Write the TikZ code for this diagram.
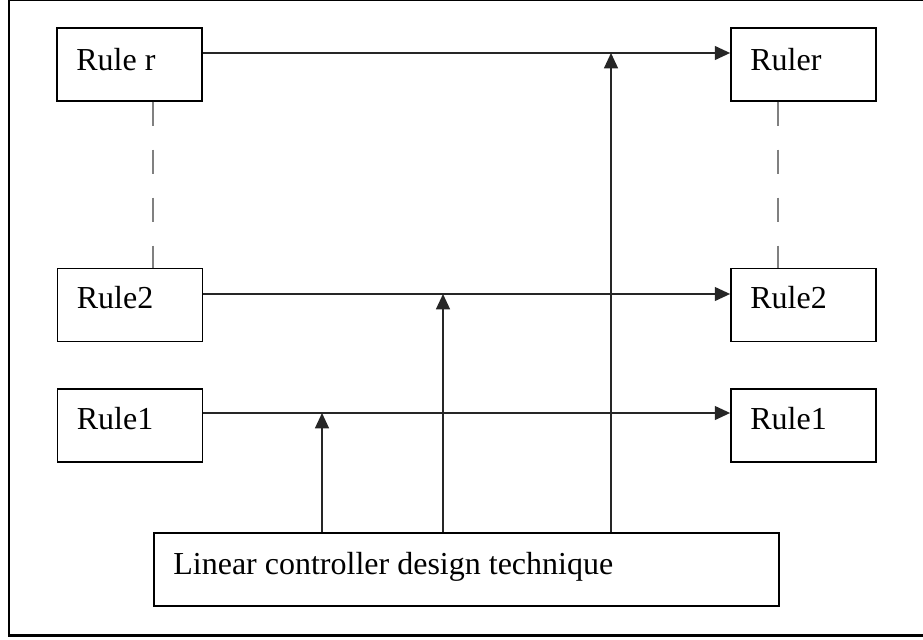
\documentclass[tikz,border=0pt]{standalone}
\usepackage{fontspec}
\setmainfont{Liberation Serif}
\usetikzlibrary{arrows.meta,calc}
\begin{document}
\begin{tikzpicture}[x=0.75pt,y=-0.75pt,
  box/.style={draw=black,line width=1.1pt,inner sep=0pt,fill=white},
  smallbox/.style={box,minimum width=109pt,minimum height=54.5pt},
  lbl/.style={anchor=base west,inner sep=0pt,font=\fontsize{24}{28}\selectfont},
  arr/.style={draw=black!85,line width=1pt,-{Triangle[length=11.5pt,width=10.5pt]}},
  dashline/.style={draw=black!50,line width=1.2pt,dash pattern=on 18.4pt off 17.6pt},
  frame/.style={draw=black,line width=1.9pt}]
\useasboundingbox (0,0) rectangle (923,639);
\clip (0,0) rectangle (923,639);
\draw[frame] (9,0) rectangle (940,635.5);

% boxes
\node[smallbox] (rr) at (129.5,64.5) {};
\node[smallbox] (rR) at (803.5,64.5) {};
\node[smallbox] (l2) at (130,305) {};
\node[smallbox] (r2) at (803.5,305) {};
\node[smallbox] (l1) at (130,425.5) {};
\node[smallbox] (r1) at (803.5,425.5) {};
\node[box,minimum width=469pt,minimum height=54.75pt] (lin) at (466.5,569.5) {};

% labels
\node[lbl] (trr) at ($(rr.north west)+(20,43)$) {Rule r};
\node[lbl] (trR) at ($(rR.north west)+(20,43)$) {Ruler};
\node[lbl] (tl2) at ($(l2.north west)+(20,41)$) {Rule2};
\node[lbl] (tr2) at ($(r2.north west)+(20,41)$) {Rule2};
\node[lbl] (tl1) at ($(l1.north west)+(20,41)$) {Rule1};
\node[lbl] (tr1) at ($(r1.north west)+(20,41)$) {Rule1};
\node[lbl] (tlin) at ($(lin.north west)+(20,42)$) {Linear controller design technique};

% junction points
\coordinate (j3) at (611,53);
\coordinate (j2) at (443,294);
\coordinate (j1) at (322,413);
\coordinate (dL) at (153,0);
\coordinate (dR) at (778,0);

% horizontal arrows
\draw[arr] (rr.east |- j3) -- (rR.west |- j3);
\draw[arr] (l2.east |- j2) -- (r2.west |- j2);
\draw[arr] (l1.east |- j1) -- (r1.west |- j1);

% vertical arrows
\draw[arr] (lin.north -| j3) -- (j3);
\draw[arr] (lin.north -| j2) -- (j2);
\draw[arr] (lin.north -| j1) -- (j1);

% dashed links
\draw[dashline] (rr.south -| dL) -- (l2.north -| dL);
\draw[dashline] (rR.south -| dR) -- (r2.north -| dR);
\end{tikzpicture}
\end{document}
